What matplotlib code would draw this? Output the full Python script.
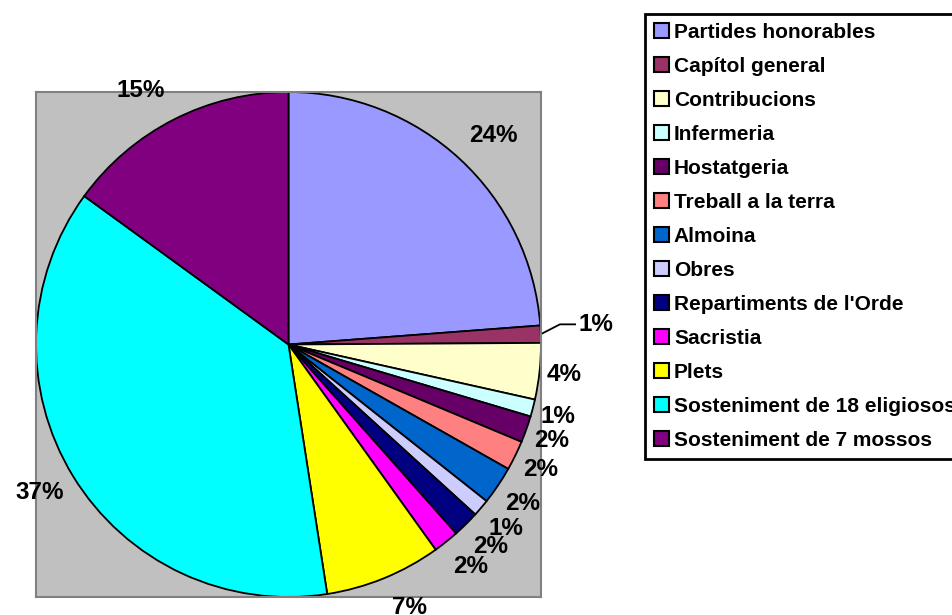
import numpy as np
import matplotlib
matplotlib.use("Agg")
import matplotlib.pyplot as plt

plt.rcParams['font.family'] = ['Liberation Sans', 'DejaVu Sans']
plt.rcParams['font.weight'] = 'bold'

# categories and shares (%)
labels = ['Partides honorables', 'Capítol general', 'Contribucions', 'Infermeria',
          'Hostatgeria', 'Treball a la terra', 'Almoina', 'Obres',
          "Repartiments de l'Orde", 'Sacristia', 'Plets',
          'Sosteniment de 18 eligiosos', 'Sosteniment de 7 mossos']
values = [23.8, 1.1, 3.6, 1.1, 1.7, 1.9, 2.45, 1.1, 1.7, 1.65, 7.45, 37.45, 15.0]
colors = ['#9999FF', '#993366', '#FFFFCC', '#CCFFFF', '#660066', '#FF8080',
          '#0066CC', '#CCCCFF', '#000080', '#FF00FF', '#FFFF00', '#00FFFF', '#800080']
leader_idx = 1  # Capítol general label sits out with a leader line

W, H = 952, 615
fig = plt.figure(figsize=(W / 100, H / 100), dpi=100)
ax = fig.add_axes([36 / W, 18 / H, 505 / W, 505 / H])

wedges, _ = ax.pie(values, colors=colors, startangle=90, counterclock=False,
                   radius=1.0, frame=True,
                   wedgeprops=dict(edgecolor='black', linewidth=1.3))
ax.set_xlim(-1, 1)
ax.set_ylim(-1, 1)
ax.set_xticks([])
ax.set_yticks([])
ax.set_facecolor('#C0C0C0')
for sp in ax.spines.values():
    sp.set_color('#808080')
    sp.set_linewidth(1.5)

total = sum(values)
for i, (w, v) in enumerate(zip(wedges, values)):
    ang = np.deg2rad((w.theta1 + w.theta2) / 2)
    ux, uy = np.cos(ang), np.sin(ang)
    txt = '%.0f%%' % (100 * v / total)
    if i == leader_idx:
        tx, ty = 1.22 * ux, 1.22 * uy + 0.03
        ax.plot([ux, 1.075, 1.135], [uy, ty, ty],
                color='black', lw=1.3, clip_on=False)
        ax.text(tx, ty, txt, ha='center', va='center', fontsize=17.5,
                fontweight='bold')
        continue
    # push the label out by its half width, like the spreadsheet does
    tx = ux + np.sign(ux) * (0.032 * len(txt) + 0.035)
    ty = 1.127 * uy
    ax.text(tx, ty, txt, ha='center', va='center',
            fontsize=17.5, fontweight='bold')

leg = fig.legend(wedges, labels, loc='upper left',
                 bbox_to_anchor=(645 / W, 1 - 14 / H), borderaxespad=0,
                 prop=dict(weight='bold', size=15),
                 handlelength=0.72, handleheight=0.72, handletextpad=0.25,
                 labelspacing=0.72, borderpad=0.42, fancybox=False,
                 framealpha=1, edgecolor='black')
leg.get_frame().set_linewidth(2)
for h in leg.legend_handles:
    h.set_edgecolor('black')
    h.set_linewidth(1.5)

fig.savefig('out.png', dpi=100)
